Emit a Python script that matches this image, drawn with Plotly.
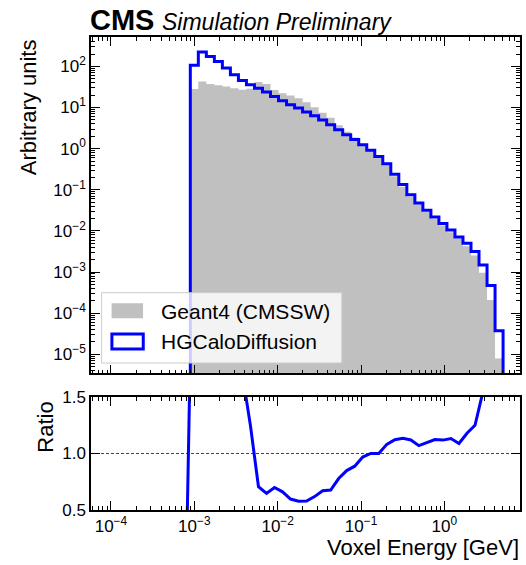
import numpy as np
import plotly.graph_objects as go

# ---------------- data ----------------
# log10 bin edges: 40 log-spaced bins (first bin is empty for HGCaloDiffusion)
LOG_EDGE_LO = -3.144
LOG_EDGE_HI = 0.704
N_BINS = 40

geant4 = [1.0e-6,
          28.2, 43.2, 37.2, 34.7, 32.4, 29.5, 26.9, 28.8, 41.8, 37.1,
          26.6, 22.1, 19.6, 16.9, 13.4, 10.2, 7.48, 5.62, 3.70, 2.58,
          1.87, 1.28, 0.912, 0.646, 0.395, 0.214, 0.119, 0.0678, 0.0448, 0.0288,
          0.0195, 0.0135, 0.00927, 0.0065, 0.00425, 0.00253, 0.000955, 0.000209, 7.9e-6]

hgcal = [0.0,
         107, 224, 174, 132, 91.2, 63.1, 45.7, 35.9, 29.5, 24.0,
         18.6, 14.6, 11.7, 9.77, 7.76, 6.31, 5.01, 3.80, 2.88, 2.19,
         1.66, 1.24, 0.912, 0.646, 0.427, 0.240, 0.135, 0.0759, 0.0479, 0.0316,
         0.0219, 0.0151, 0.0105, 0.00708, 0.00501, 0.00316, 0.00148, 0.000468, 3.72e-5]

x_tick_exps = [-4, -3, -2, -1, 0]
y_tick_exps = [-5, -4, -3, -2, -1, 0, 1, 2]
ratio_tick_vals = [0.5, 1.0, 1.5]
ratio_tick_text = ["0.5", "1.0", "1.5"]

label_g4 = "Geant4 (CMSSW)"
label_hg = "HGCaloDiffusion"

# ---------------- derived ----------------
edges = np.logspace(LOG_EDGE_LO, LOG_EDGE_HI, N_BINS + 1)
centers = np.sqrt(edges[:-1] * edges[1:])
g4 = np.array(geant4, dtype=float)
hg = np.array(hgcal, dtype=float)
ratio = hg / g4

BASE = 1e-9


def step_outline(e, v):
    xs = [e[0]]
    ys = [BASE]
    for i, val in enumerate(v):
        xs += [e[i], e[i + 1]]
        ys += [val, val]
    xs.append(e[-1])
    ys.append(BASE)
    return xs, ys


def pow_label(e):
    s = str(e).replace("-", "\u2212")
    return "10<sup>" + s + "</sup>"


gx, gy = step_outline(edges, g4)
nz = np.nonzero(hg > 0)[0]
first = nz[0]
bx, by = step_outline(edges[first:], hg[first:])

# ---------------- layout geometry (pixels) ----------------
W, H = 526, 565
ML, MR, MT, MB = 91, 4, 37, 55
PW = W - ML - MR
PH = H - MT - MB


def px(xp):
    return (xp - ML) / PW


def py(yp):
    return (MT + PH - yp) / PH


main_dom = [py(373.3), 1.0]
ratio_dom = [0.0, py(397)]

BLUE = "#0000ff"
GRAY = "#c0c0c0"
FONT = "Liberation Sans, Arial, Helvetica, sans-serif"

fig = go.Figure()
fig.add_trace(go.Scatter(x=gx, y=gy, mode="lines", fill="toself", fillcolor=GRAY,
                         line=dict(width=0, color=GRAY), hoverinfo="skip",
                         showlegend=False, xaxis="x", yaxis="y"))
fig.add_trace(go.Scatter(x=bx, y=by, mode="lines",
                         line=dict(width=3, color=BLUE, shape="linear"),
                         showlegend=False, xaxis="x", yaxis="y"))
fig.add_trace(go.Scatter(x=centers, y=ratio, mode="lines",
                         line=dict(width=3, color=BLUE),
                         showlegend=False, xaxis="x2", yaxis="y2"))

minor_x = [m * 10.0 ** d for d in range(-5, 2) for m in range(2, 10)]
minor_y = [m * 10.0 ** d for d in range(-7, 3) for m in range(2, 10)]

tickfont = dict(family=FONT, size=17, color="black")
common_axis = dict(showline=True, linecolor="black", linewidth=1.5, mirror="allticks",
                   ticks="inside", ticklen=9, tickwidth=1.2, tickcolor="black",
                   showgrid=False, zeroline=False, tickfont=tickfont)
minor_style = dict(ticks="inside", ticklen=4, tickwidth=1, tickcolor="black")

x_tick_vals = [10.0 ** e for e in x_tick_exps]
x_tick_text = [pow_label(e) for e in x_tick_exps]
y_tick_vals = [10.0 ** e for e in y_tick_exps]
y_tick_text = [pow_label(e) for e in y_tick_exps]

xr = [-4.239, 0.907]
fig.update_layout(
    width=W, height=H,
    margin=dict(l=ML, r=MR, t=MT, b=MB),
    paper_bgcolor="white", plot_bgcolor="white",
    showlegend=False,
    xaxis=dict(type="log", range=xr, domain=[0, 1], anchor="y",
               tickvals=x_tick_vals, showticklabels=False,
               minor=dict(tickvals=minor_x, **minor_style),
               **common_axis),
    yaxis=dict(type="log", range=[-5.462, 2.715], domain=main_dom, anchor="x",
               tickvals=y_tick_vals, ticktext=y_tick_text,
               minor=dict(tickvals=minor_y, **minor_style),
               **common_axis),
    xaxis2=dict(type="log", range=xr, domain=[0, 1], anchor="y2", matches="x",
                tickvals=x_tick_vals, ticktext=x_tick_text,
                minor=dict(tickvals=minor_x, **minor_style),
                **common_axis),
    yaxis2=dict(range=[0.5, 1.5], domain=ratio_dom, anchor="x2",
                tickvals=ratio_tick_vals, ticktext=ratio_tick_text,
                **common_axis),
)

# reference line at ratio 1
fig.add_shape(type="line", xref="x2 domain", yref="y2", x0=0, x1=1, y0=1, y1=1,
              line=dict(color="#444444", width=1, dash="3px,2px"), layer="below")

# ---------------- legend (drawn manually) ----------------
lx0, ly0, lx1, ly1 = 101.7, 292.7, 343, 363
fig.add_shape(type="rect", xref="paper", yref="paper",
              x0=px(lx0), x1=px(lx1), y0=py(ly1), y1=py(ly0),
              fillcolor="rgba(255,255,255,0.8)", line=dict(color="#cccccc", width=1),
              layer="above")
fig.add_shape(type="rect", xref="paper", yref="paper",
              x0=px(111.7), x1=px(143.3), y0=py(318.3), y1=py(303.3),
              fillcolor=GRAY, line=dict(width=0), layer="above")
fig.add_shape(type="rect", xref="paper", yref="paper",
              x0=px(112), x1=px(143.5), y0=py(349), y1=py(334),
              fillcolor="rgba(0,0,0,0)", line=dict(color=BLUE, width=3), layer="above")
legfont = dict(family=FONT, size=21, color="black")
fig.add_annotation(text=label_g4, xref="paper", yref="paper", x=px(159), y=py(311),
                   xanchor="left", yanchor="middle", showarrow=False, font=legfont)
fig.add_annotation(text=label_hg, xref="paper", yref="paper", x=px(159), y=py(341.5),
                   xanchor="left", yanchor="middle", showarrow=False, font=legfont)

# ---------------- titles / labels ----------------
labfont = dict(family=FONT, size=22, color="black")
fig.add_annotation(text="Arbitrary units", xref="paper", yref="paper", x=px(28), y=1.0,
                   xanchor="center", yanchor="top", textangle=-90, showarrow=False,
                   font=labfont)
fig.add_annotation(text="Ratio", xref="paper", yref="paper", x=px(45), y=py(400),
                   xanchor="center", yanchor="top", textangle=-90, showarrow=False,
                   font=labfont)
fig.add_annotation(text="Voxel Energy [GeV]", xref="paper", yref="paper", x=px(523),
                   y=py(547), xanchor="right", yanchor="middle", showarrow=False,
                   font=labfont)
fig.add_annotation(text="<b>CMS</b>", xref="paper", yref="paper", x=px(88), y=py(20),
                   xanchor="left", yanchor="middle", showarrow=False,
                   font=dict(family=FONT, size=29, color="black"))
fig.add_annotation(text="<i>Simulation Preliminary</i>", xref="paper", yref="paper",
                   x=px(160), y=py(22), xanchor="left", yanchor="middle", showarrow=False,
                   font=dict(family=FONT, size=23, color="black"))

fig.write_html("out.html")
